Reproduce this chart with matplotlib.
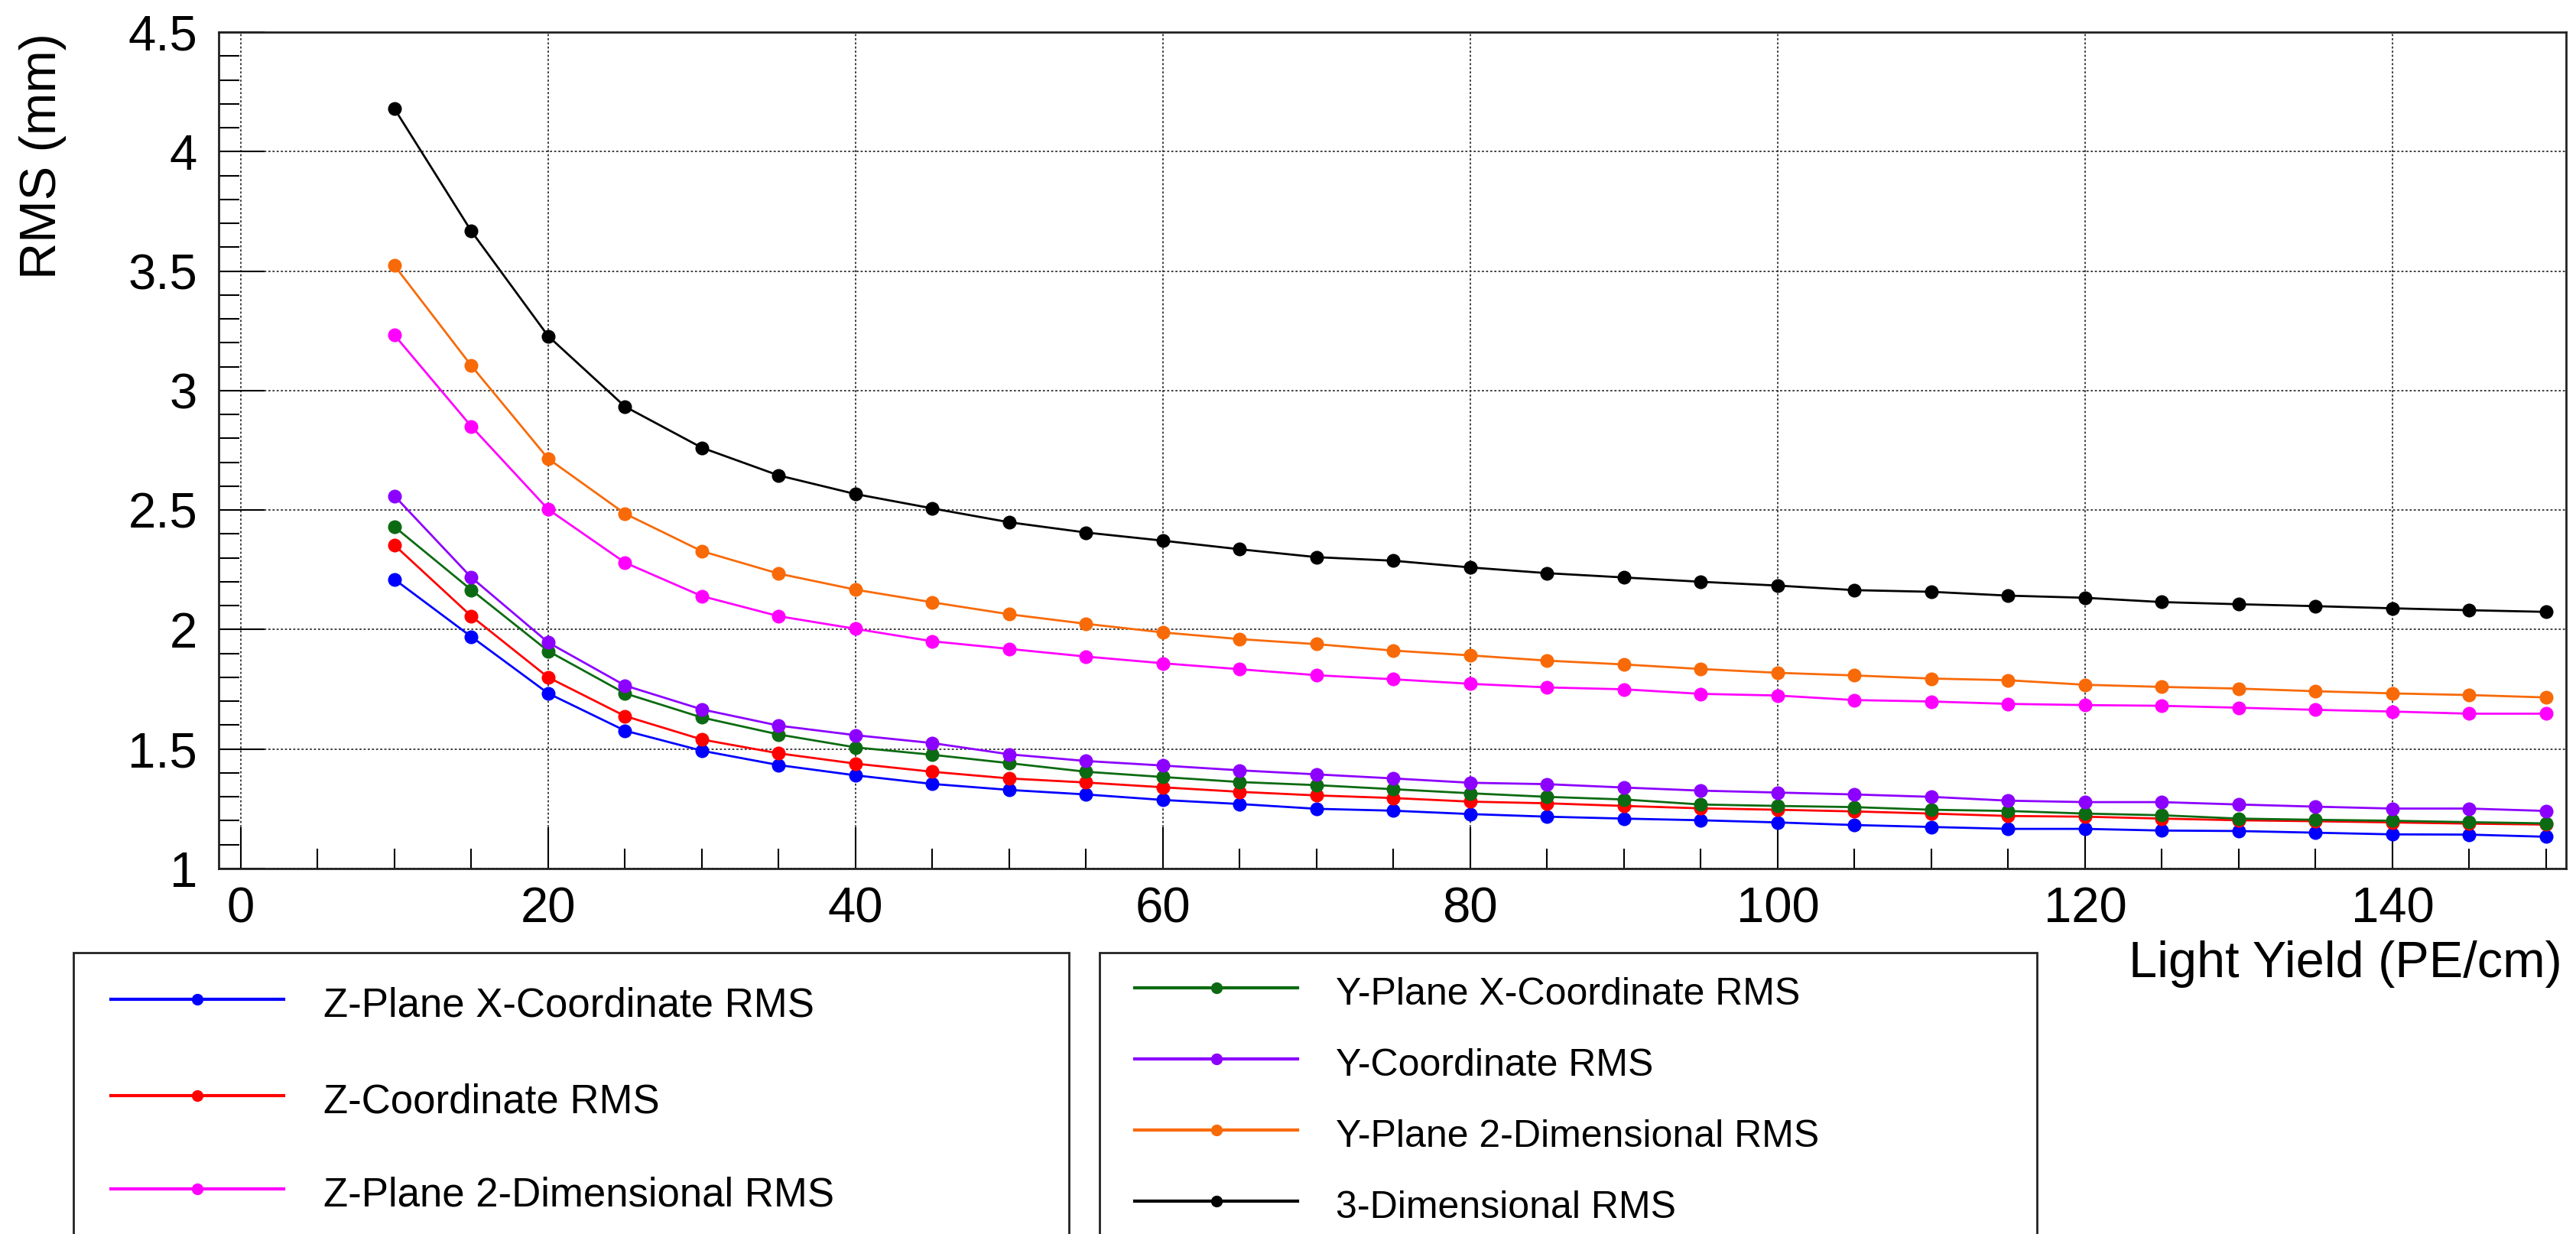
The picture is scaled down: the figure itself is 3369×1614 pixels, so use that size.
import matplotlib
matplotlib.use("Agg")
import matplotlib.pyplot as plt
from matplotlib.lines import Line2D
from matplotlib.patches import Rectangle
from matplotlib.ticker import MultipleLocator

plt.rcParams['font.family'] = ['Liberation Sans', 'DejaVu Sans']

# light yield (PE/cm)
light_yield = [10, 15, 20, 25, 30, 35, 40, 45, 50, 55, 60, 65, 70, 75, 80,
               85, 90, 95, 100, 105, 110, 115, 120, 125, 130, 135, 140, 145, 150]

# RMS (mm)
z_plane_x = [2.210, 1.970, 1.733, 1.577, 1.493, 1.433, 1.390, 1.354, 1.329, 1.310,
             1.287, 1.270, 1.250, 1.242, 1.228, 1.217, 1.209, 1.202, 1.193, 1.182,
             1.174, 1.166, 1.166, 1.159, 1.157, 1.150, 1.143, 1.142, 1.133]
z_coord = [2.353, 2.056, 1.800, 1.638, 1.540, 1.482, 1.439, 1.405, 1.377, 1.360,
           1.340, 1.321, 1.306, 1.295, 1.280, 1.273, 1.262, 1.252, 1.246, 1.239,
           1.230, 1.220, 1.217, 1.209, 1.202, 1.198, 1.193, 1.188, 1.184]
z_plane_2d = [3.232, 2.850, 2.503, 2.280, 2.140, 2.056, 2.003, 1.951, 1.919, 1.887,
              1.859, 1.834, 1.809, 1.792, 1.773, 1.758, 1.750, 1.731, 1.724, 1.705,
              1.699, 1.689, 1.684, 1.681, 1.673, 1.664, 1.657, 1.648, 1.648]
y_plane_x = [2.430, 2.166, 1.910, 1.733, 1.632, 1.561, 1.507, 1.476, 1.441, 1.405,
             1.383, 1.362, 1.349, 1.332, 1.315, 1.300, 1.289, 1.268, 1.262, 1.257,
             1.246, 1.241, 1.230, 1.223, 1.209, 1.204, 1.200, 1.194, 1.189]
y_coord = [2.559, 2.218, 1.946, 1.766, 1.666, 1.598, 1.558, 1.525, 1.478, 1.450,
           1.431, 1.411, 1.394, 1.377, 1.359, 1.353, 1.339, 1.326, 1.318, 1.310,
           1.300, 1.284, 1.278, 1.278, 1.268, 1.259, 1.251, 1.251, 1.241]
y_plane_2d = [3.523, 3.104, 2.715, 2.485, 2.328, 2.234, 2.167, 2.114, 2.064, 2.024,
              1.988, 1.960, 1.939, 1.912, 1.892, 1.870, 1.854, 1.835, 1.819, 1.808,
              1.795, 1.788, 1.769, 1.760, 1.753, 1.742, 1.733, 1.726, 1.716]
three_d = [4.179, 3.667, 3.228, 2.933, 2.761, 2.645, 2.567, 2.507, 2.449, 2.406,
           2.372, 2.336, 2.303, 2.288, 2.260, 2.236, 2.218, 2.200, 2.184, 2.165,
           2.158, 2.142, 2.133, 2.115, 2.106, 2.098, 2.089, 2.081, 2.074]

labels_left = ["Z-Plane X-Coordinate RMS", "Z-Coordinate RMS", "Z-Plane 2-Dimensional RMS"]
labels_right = ["Y-Plane X-Coordinate RMS", "Y-Coordinate RMS", "Y-Plane 2-Dimensional RMS",
                "3-Dimensional RMS"]

C_BLUE, C_RED, C_MAG = '#0000ff', '#ff0000', '#ff00ff'
C_GREEN, C_PURPLE, C_ORANGE, C_BLACK = '#0c6b12', '#8c00ff', '#f86a08', '#000000'

W, H = 3369, 1614


def fx(px):
    return px / W


def fy(py):
    return 1 - py / H


fig = plt.figure(figsize=(W / 100, H / 100), dpi=100)
ax = fig.add_axes([fx(286), fy(1136), fx(3356) - fx(286), fy(42) - fy(1136)])

series = [(z_plane_x, C_BLUE), (z_coord, C_RED), (z_plane_2d, C_MAG),
          (y_plane_x, C_GREEN), (y_coord, C_PURPLE), (y_plane_2d, C_ORANGE),
          (three_d, C_BLACK)]
for vals, col in series:
    ax.plot(light_yield, vals, color=col, lw=2, marker='o', ms=13,
            markeredgewidth=0, zorder=3)

ax.set_xlim(-1.44, 151.3)
ax.set_ylim(1, 4.5)
ax.xaxis.set_major_locator(MultipleLocator(20))
ax.xaxis.set_minor_locator(MultipleLocator(5))
ax.yaxis.set_major_locator(MultipleLocator(0.5))
ax.yaxis.set_minor_locator(MultipleLocator(0.1))
ax.yaxis.set_major_formatter(plt.FuncFormatter(lambda v, p: f"{v:g}"))

ax.tick_params(axis='x', which='major', direction='in', length=39, width=1.5, pad=17,
               labelsize=47, top=False)
ax.tick_params(axis='x', which='minor', direction='in', length=18.5, width=1.5, top=False)
ax.tick_params(axis='y', which='major', direction='in', length=43, width=1.5, pad=20,
               labelsize=47, right=False)
ax.tick_params(axis='y', which='minor', direction='in', length=19.5, width=1.5, right=False)

ax.grid(True, which='major', color='#333333', lw=1.3, linestyle=(0, (1.5, 1.5)))
for s in ax.spines.values():
    s.set_linewidth(2)
    s.set_color('#222222')

fig.text(fx(56), fy(43), "RMS (mm)", rotation=90, ha='center', va='top', fontsize=48)
fig.text(fx(3351), fy(1278), "Light Yield (PE/cm)", ha='right', va='baseline', fontsize=48)

# legend boxes, drawn by hand so they can run off the bottom like the original
fig.add_artist(Rectangle((fx(96), fy(1700)), fx(1398) - fx(96), fy(1246) - fy(1700),
                         transform=fig.transFigure, fill=False, lw=2, ec='#222222'))
fig.add_artist(Rectangle((fx(1438), fy(1700)), fx(2664) - fx(1438), fy(1246) - fy(1700),
                         transform=fig.transFigure, fill=False, lw=2, ec='#222222'))


def legend_entry(x0, x1, y, col, text, tx, size):
    xm = (x0 + x1) / 2
    fig.add_artist(Line2D([fx(x0), fx(xm), fx(x1)], [fy(y)] * 3, transform=fig.transFigure,
                          color=col, lw=3, marker='o', ms=11, markeredgewidth=0,
                          markevery=[1]))
    fig.text(fx(tx), fy(y + 0.36 * size * 100 / 72 + 4), text, ha='left', va='baseline',
             fontsize=size)


for (vals, col), lab, y in zip(series[:3], labels_left, [1307, 1433, 1555]):
    legend_entry(145, 371, y, col, lab, 423, 38)
for (vals, col), lab, y in zip(series[3:], labels_right, [1292, 1385, 1478, 1571]):
    legend_entry(1484, 1697, y, col, lab, 1747, 36)

fig.savefig("out.png", dpi=100)
